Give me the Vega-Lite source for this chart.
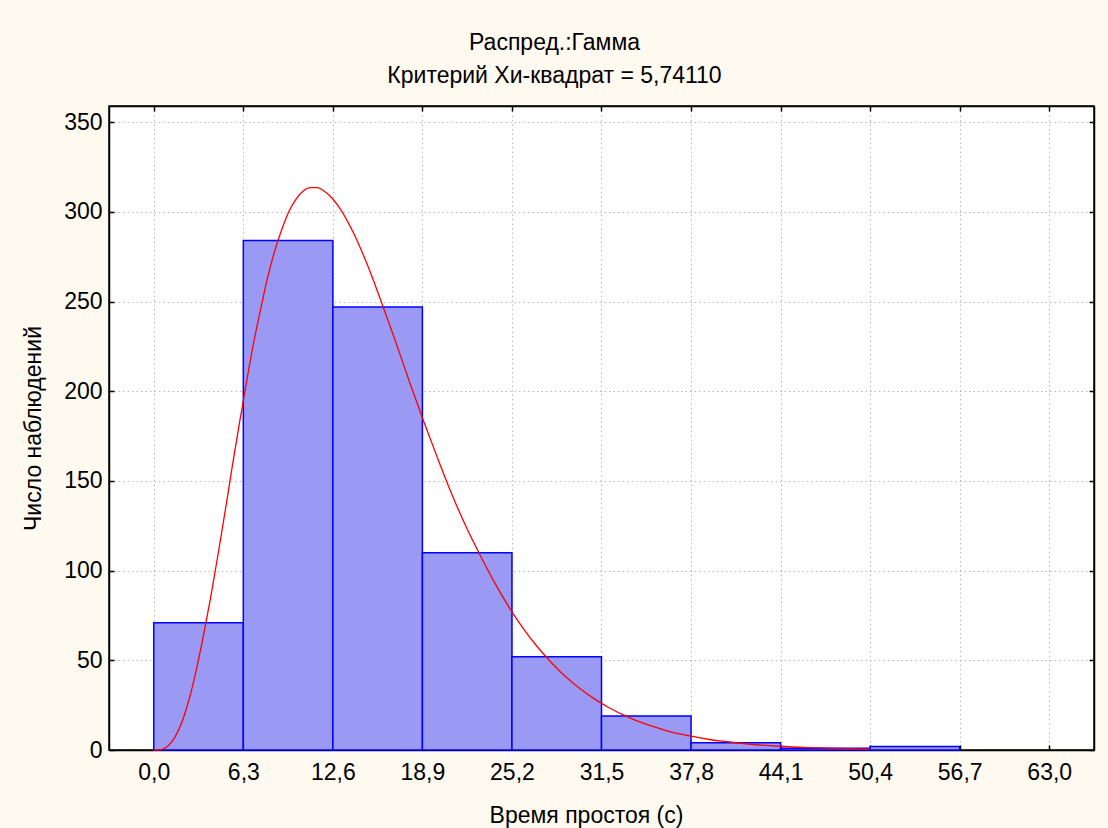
{
  "$schema": "https://vega.github.io/schema/vega-lite/v6.json",
  "width": 985,
  "height": 644,
  "autosize": {"type": "none"},
  "padding": {"left": 109, "top": 106, "right": 14, "bottom": 78},
  "background": "#FFFAF0",
  "config": {
    "font": "Liberation Sans",
    "view": {"fill": "white", "stroke": "black", "strokeWidth": 1.5},
    "axis": {
      "labelFont": "Liberation Sans",
      "titleFont": "Liberation Sans",
      "labelColor": "black",
      "titleColor": "black",
      "labelFontSize": 23,
      "titleFontSize": 23,
      "titleFontWeight": "normal",
      "domainColor": "black",
      "domainWidth": 1.5,
      "tickColor": "black",
      "tickSize": -5,
      "tickWidth": 1.5,
      "gridColor": "#B8B8B8",
      "gridDash": [1.5, 3],
      "gridWidth": 1
    }
  },
  "title": {
    "text": "Распред.:Гамма",
    "subtitle": "Критерий Хи-квадрат = 5,74110",
    "font": "Liberation Sans",
    "subtitleFont": "Liberation Sans",
    "fontSize": 23,
    "subtitleFontSize": 23,
    "fontWeight": "normal",
    "color": "black",
    "subtitleColor": "black",
    "anchor": "middle",
    "dx": -47,
    "offset": 17,
    "subtitlePadding": 10
  },
  "datasets": {
    "bins": [
      {"start": 0.0, "end": 6.3, "count": 71},
      {"start": 6.3, "end": 12.6, "count": 284},
      {"start": 12.6, "end": 18.9, "count": 247},
      {"start": 18.9, "end": 25.2, "count": 110},
      {"start": 25.2, "end": 31.5, "count": 52},
      {"start": 31.5, "end": 37.8, "count": 19},
      {"start": 37.8, "end": 44.1, "count": 4},
      {"start": 44.1, "end": 50.4, "count": 1},
      {"start": 50.4, "end": 56.7, "count": 2}
    ],
    "curve": [
      {"t": 0, "v": 0}, {"t": 0.5, "v": 0.2}, {"t": 1, "v": 2.2}, {"t": 1.5, "v": 7.3},
      {"t": 2, "v": 16}, {"t": 2.5, "v": 28.7}, {"t": 3, "v": 45}, {"t": 3.5, "v": 64},
      {"t": 4, "v": 85}, {"t": 4.5, "v": 108}, {"t": 5, "v": 132}, {"t": 5.5, "v": 157},
      {"t": 6, "v": 181}, {"t": 6.5, "v": 204}, {"t": 7, "v": 226}, {"t": 7.5, "v": 245},
      {"t": 8, "v": 263}, {"t": 8.5, "v": 278}, {"t": 9, "v": 290}, {"t": 9.5, "v": 300},
      {"t": 10, "v": 307}, {"t": 10.5, "v": 311.5}, {"t": 11, "v": 313.5}, {"t": 11.5, "v": 313.5},
      {"t": 12, "v": 311.5}, {"t": 12.5, "v": 308}, {"t": 13, "v": 303}, {"t": 14, "v": 289},
      {"t": 15, "v": 271}, {"t": 16, "v": 250}, {"t": 17, "v": 228}, {"t": 18, "v": 205},
      {"t": 19, "v": 183}, {"t": 20, "v": 162}, {"t": 21, "v": 142}, {"t": 22, "v": 124},
      {"t": 23, "v": 108}, {"t": 24, "v": 93}, {"t": 25, "v": 79.5}, {"t": 26, "v": 67.7},
      {"t": 27, "v": 57.4}, {"t": 28, "v": 48.5}, {"t": 29, "v": 40.7}, {"t": 30, "v": 34.1},
      {"t": 31, "v": 28.5}, {"t": 32, "v": 23.7}, {"t": 33, "v": 19.7}, {"t": 34, "v": 16.2},
      {"t": 35, "v": 13.4}, {"t": 36, "v": 11}, {"t": 37, "v": 9}, {"t": 38, "v": 7.4},
      {"t": 39, "v": 6}, {"t": 40, "v": 4.9}, {"t": 42, "v": 3.2}, {"t": 44, "v": 2.1},
      {"t": 46, "v": 1.35}, {"t": 48, "v": 0.85}, {"t": 50.4, "v": 0.5}
    ]
  },
  "layer": [
    {
      "data": {"name": "bins"},
      "mark": {"type": "rect", "fill": "#9A9AF5", "stroke": "#0000FF", "strokeWidth": 1.5},
      "encoding": {
        "x": {
          "field": "start", "type": "quantitative",
          "scale": {"domain": [-3.15, 66.15], "nice": false, "zero": false},
          "axis": {
            "orient": "bottom",
            "title": "Время простоя (с)",
            "titleX": 477,
            "titlePadding": 20,
            "values": [0, 6.3, 12.6, 18.9, 25.2, 31.5, 37.8, 44.1, 50.4, 56.7, 63.0],
            "labelExpr": "replace(format(datum.value, '.1f'), '.', ',')",
            "labelPadding": 16,
            "grid": true
          }
        },
        "x2": {"field": "end"},
        "y": {
          "field": "count", "type": "quantitative",
          "scale": {"domain": [0, 359], "nice": false},
          "axis": {
            "orient": "left",
            "title": "Число наблюдений",
            "titlePadding": 18,
            "values": [0, 50, 100, 150, 200, 250, 300, 350],
            "labelPadding": 12,
            "grid": true
          }
        },
        "y2": {"datum": 0}
      }
    },
    {
      "data": {"name": "curve"},
      "mark": {"type": "line", "color": "#FF0000", "strokeWidth": 1.3, "interpolate": "monotone"},
      "encoding": {
        "x": {
          "field": "t", "type": "quantitative",
          "scale": {"domain": [-3.15, 66.15], "nice": false, "zero": false},
          "axis": {
            "orient": "top", "title": null, "labels": false, "grid": false,
            "values": [0, 6.3, 12.6, 18.9, 25.2, 31.5, 37.8, 44.1, 50.4, 56.7, 63.0]
          }
        },
        "y": {
          "field": "v", "type": "quantitative",
          "scale": {"domain": [0, 359], "nice": false},
          "axis": {
            "orient": "right", "title": null, "labels": false, "grid": false,
            "values": [0, 50, 100, 150, 200, 250, 300, 350]
          }
        }
      }
    }
  ]
}
